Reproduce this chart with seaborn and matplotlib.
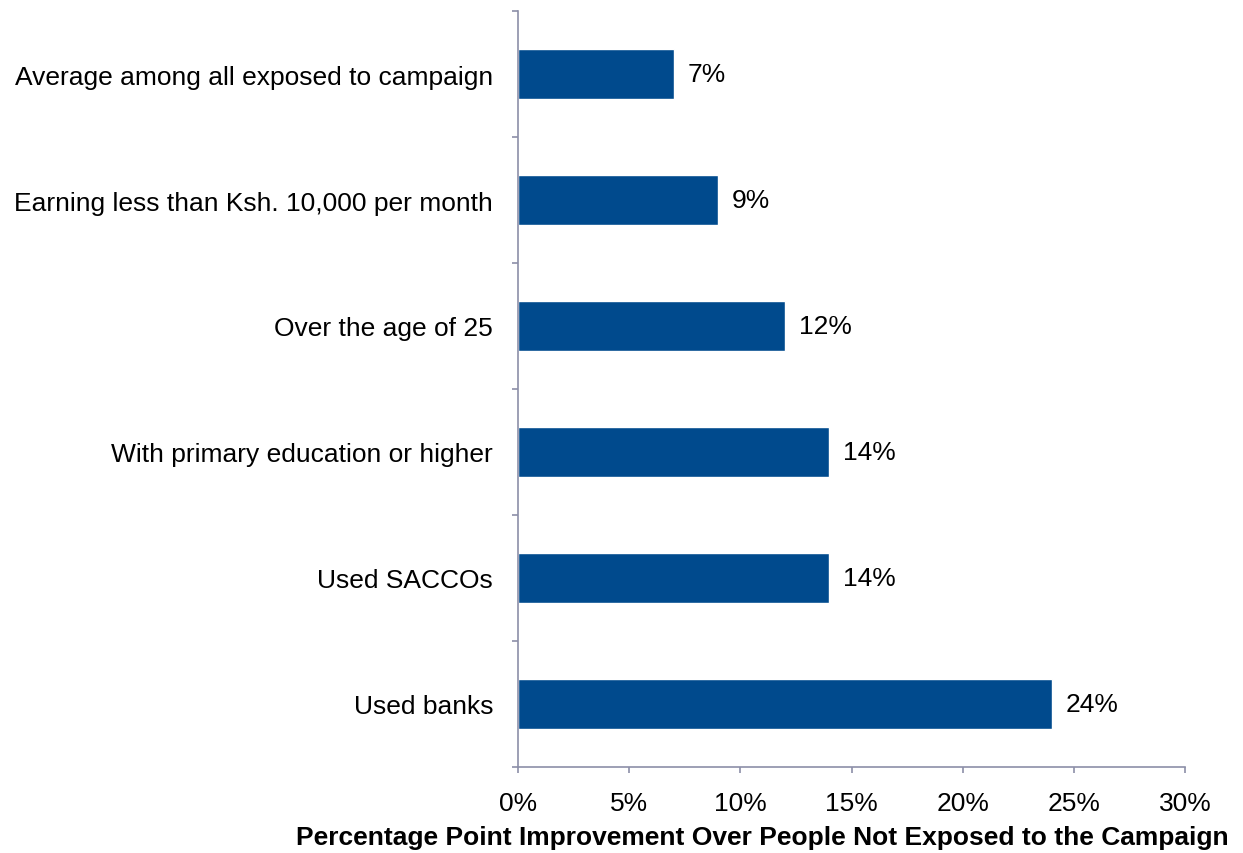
import numpy as np
import pandas as pd
import seaborn as sns
import matplotlib.pyplot as plt
from matplotlib.ticker import FixedLocator, PercentFormatter

# data
groups = ['Average among all exposed to campaign',
          'Earning less than Ksh. 10,000 per month',
          'Over the age of 25',
          'With primary education or higher',
          'Used SACCOs',
          'Used banks']
improvement = [7, 9, 12, 14, 14, 24]
x_ticks = [0, 5, 10, 15, 20, 25, 30]

df = pd.DataFrame({'group': groups, 'improvement': improvement})

sns.set_style('white')
plt.rcParams['font.family'] = ['Liberation Sans', 'DejaVu Sans']
plt.rcParams['text.color'] = 'black'
plt.rcParams['xtick.labelcolor'] = 'black'
plt.rcParams['ytick.labelcolor'] = 'black'
plt.rcParams['axes.labelcolor'] = 'black'

axis_col = '#8c8fa8'
bar_col = '#004a8d'
fs = 19

fig = plt.figure(figsize=(12.43, 8.54), dpi=100)
ax = fig.add_axes([518 / 1243, 1 - 768 / 854, 667 / 1243, 756 / 854])

sns.barplot(data=df, x='improvement', y='group', orient='h', color=bar_col,
            width=0.4, saturation=1, ax=ax)

for c in ax.containers:
    ax.bar_label(c, labels=[f'{v:.0f}%' for v in c.datavalues],
                 padding=10, fontsize=fs, color='black')

ax.set_xlim(0, 30)
ax.set_ylim(len(groups) - 0.5, -0.5)
ax.set_xticks(x_ticks)
ax.xaxis.set_major_formatter(PercentFormatter(decimals=0))

# category boundary ticks on y
ax.yaxis.set_minor_locator(FixedLocator(np.arange(-0.5, len(groups), 1)))
ax.tick_params(axis='y', which='major', length=0, pad=18, labelsize=fs)
ax.tick_params(axis='y', which='minor', length=4.5, width=1.2, color=axis_col, left=True)
ax.tick_params(axis='x', which='major', length=4.5, width=1.2, color=axis_col,
               bottom=True, pad=13, labelsize=fs)

for s in ['top', 'right']:
    ax.spines[s].set_visible(False)
for s in ['left', 'bottom']:
    ax.spines[s].set_color(axis_col)
    ax.spines[s].set_linewidth(1.2)

ax.set_ylabel('')
ax.set_xlabel('Percentage Point Improvement Over People Not Exposed to the Campaign',
              fontsize=fs, fontweight='bold')
ax.xaxis.set_label_coords(0.366, -0.077)

fig.savefig('out.png', dpi=100)
